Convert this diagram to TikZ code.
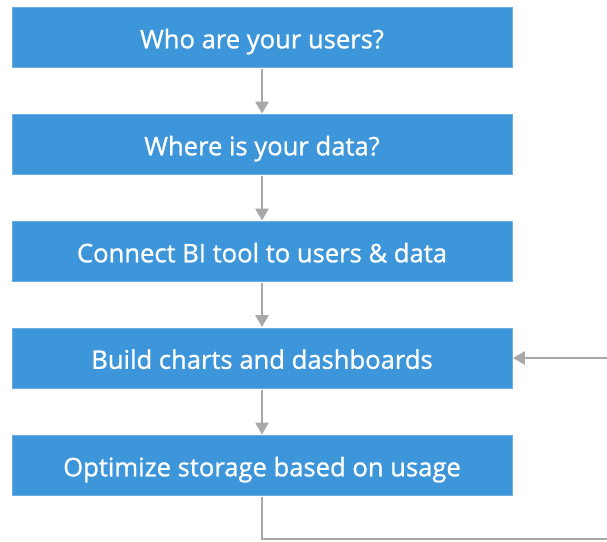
\documentclass[tikz,border=0pt]{standalone}
\usepackage{fontspec}
\setmainfont{Open Sans}
\newfontfamily\boxfont{Open Sans}[FakeBold=1.0]
\usetikzlibrary{arrows.meta}
\definecolor{boxblue}{HTML}{3D95DA}
\definecolor{boxedge}{HTML}{6AAEE3}
\definecolor{arrowgray}{HTML}{A8A8A8}
\tikzset{
  stepbox/.style={draw=boxedge, line width=0.8pt, fill=boxblue, text=white, minimum width=500pt, minimum height=60pt, inner sep=0pt, text height=21.6pt, text depth=0pt, font=\boxfont\fontsize{25.6}{28}\selectfont},
  flow/.style={draw=arrowgray, line width=2.5pt, -{Triangle[length=12pt,width=13pt]}},
  plainline/.style={draw=arrowgray, line width=2.5pt}
}
\begin{document}
\begin{tikzpicture}[x=1pt,y=1pt]
\useasboundingbox (0,0) rectangle (607,-541);
\node[stepbox] (b1) at (262,-37.5) {Who are your users?};
\node[stepbox] (b2) at (262,-144.5) {Where is your data?};
\node[stepbox] (b3) at (262,-251.5) {Connect BI tool to users \& data};
\node[stepbox] (b4) at (262,-358) {Build charts and dashboards};
\node[stepbox] (b5) at (262,-465.5) {Optimize storage based on usage};
\coordinate (c1) at (262,-539);
\coordinate (c2) at (608,-539);
\coordinate (c3) at (608,-358);
\draw[flow] (b1.south) ++(0,-1.5) -- ([yshift=0.5pt]b2.north);
\draw[flow] (b2.south) ++(0,-1.5) -- ([yshift=0.5pt]b3.north);
\draw[flow] (b3.south) ++(0,-1.5) -- ([yshift=0.5pt]b4.north);
\draw[flow] (b4.south) ++(0,-1.5) -- ([yshift=0.5pt]b5.north);
\draw[plainline] ([yshift=-1.5pt]b5.south) -- (c1) -- (c2);
\draw[flow] (c3) -- ([xshift=0.5pt]b4.east);
\end{tikzpicture}
\end{document}
